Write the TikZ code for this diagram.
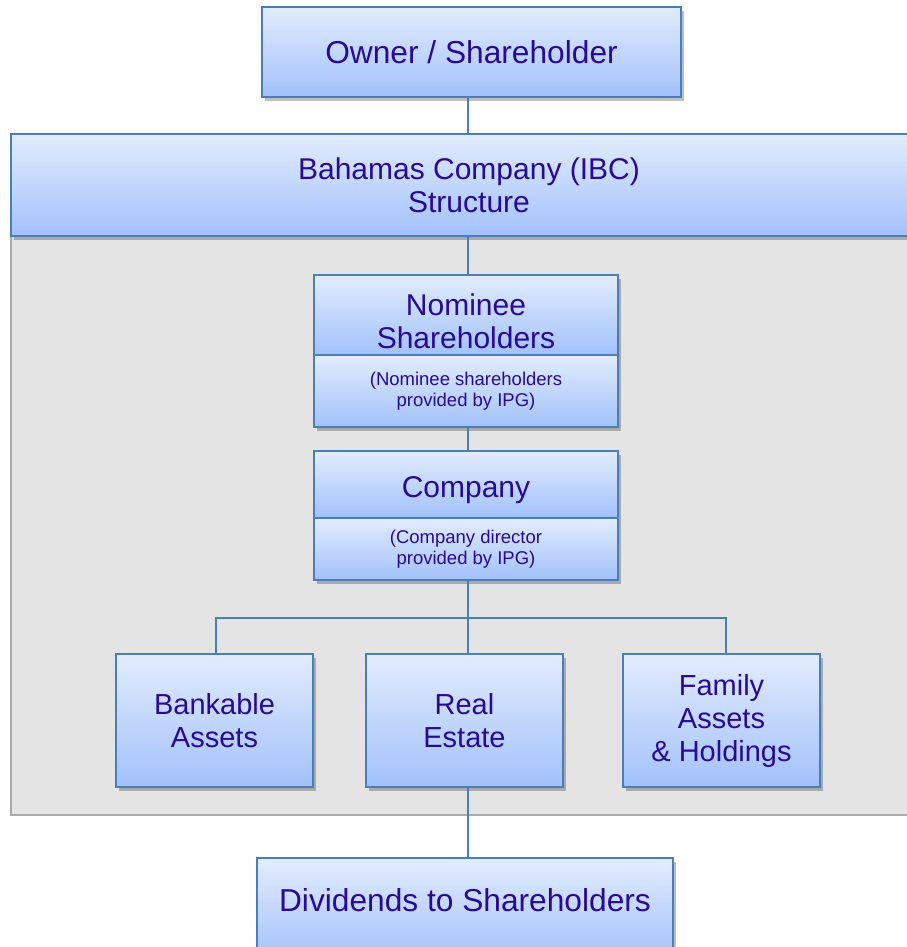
\documentclass[tikz,border=0pt]{standalone}
\usepackage{fontspec}
\setmainfont{Liberation Sans}
\usetikzlibrary{shadows}
\definecolor{txt}{RGB}{40,10,150}
\definecolor{edge}{RGB}{74,126,187}
\definecolor{topc}{RGB}{226,236,253}
\definecolor{botc}{RGB}{162,193,251}
\definecolor{panel}{RGB}{228,228,228}
\definecolor{panedge}{RGB}{170,170,170}
\tikzset{
  bx/.style={rectangle, draw=edge, line width=2pt, top color=topc, bottom color=botc,
    text=txt, align=center, inner sep=0pt,
    drop shadow={shadow xshift=3pt, shadow yshift=-4pt, fill=black, opacity=0.25}},
  big/.style={font=\fontsize{31.7}{35}\selectfont},
  mid/.style={font=\fontsize{30}{33}\selectfont},
  bmid/.style={font=\fontsize{29}{33}\selectfont},
  small/.style={font=\fontsize{18.5}{21}\selectfont},
  conn/.style={draw=edge, line width=2pt}
}
\begin{document}
\begin{tikzpicture}[x=1pt,y=-1pt]
\useasboundingbox (0,0) rectangle (906,947);
% panel
\path[fill=panel, draw=panedge, line width=1.5pt] (11,236) rectangle (930,815);
% nodes
\node[bx, big, minimum width=419, minimum height=90] (owner) at (471.5,52) {Owner / Shareholder};
\node[bx, mid, minimum width=916, minimum height=102] (bah) at (469,185) {Bahamas Company (IBC)\\Structure};
\node[bx, mid, minimum width=304, minimum height=80] (nomA) at (466,315) {\rule{0pt}{34pt}Nominee\\Shareholders};
\node[bx, small, minimum width=304, minimum height=72] (nomB) at (466,391) {(Nominee shareholders\\provided by IPG)};
\node[bx, mid, minimum width=304, minimum height=67, text height=32pt] (compA) at (466,484.5) {Company};
\node[bx, small, minimum width=304, minimum height=62] (compB) at (466,549) {(Company director\\provided by IPG)};
\node[bx, bmid, minimum width=197, minimum height=133] (bank) at (214.5,720.5) {Bankable\\Assets};
\node[bx, bmid, minimum width=197, minimum height=133] (real) at (464.5,720.5) {Real\\Estate};
\node[bx, bmid, minimum width=197, minimum height=133] (fam) at (721.5,720.5) {Family\\Assets\\\& Holdings};
\node[bx, big, minimum width=416, minimum height=104, text depth=20pt] (div) at (465,910) {Dividends to Shareholders};
% connectors
\path[conn] ([xshift=-3.5pt]owner.south) -- ([xshift=-3.5pt]owner.south |- bah.north);
\path[conn] ([xshift=2pt]nomA.north |- bah.south) -- ([xshift=2pt]nomA.north);
\path[conn] ([xshift=2pt]nomB.south) -- ([xshift=2pt]compA.north);
\coordinate (split) at ([xshift=2pt,yshift=-37pt]compB.south);
\path[conn] ([xshift=2pt]compB.south) -- (split);
\path[conn] (split) -| ([xshift=1.5pt]bank.north);
\path[conn] (split) -| ([xshift=4.5pt]fam.north);
\path[conn] (split) -- ([xshift=3.5pt]real.north);
\path[conn] ([xshift=3.5pt]real.south) -- ([xshift=3.5pt]real.south |- div.north);
\end{tikzpicture}
\end{document}
